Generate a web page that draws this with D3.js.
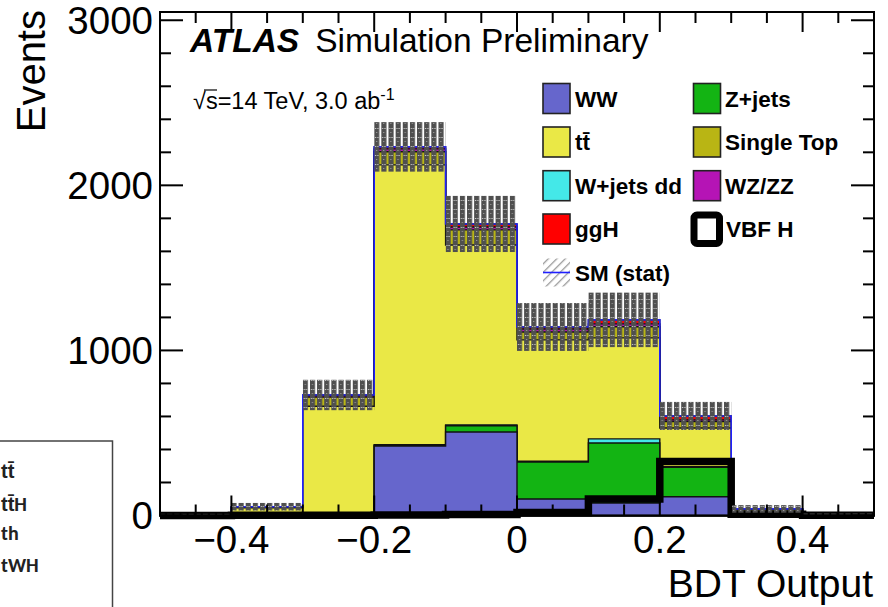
<!DOCTYPE html>
<html>
<head>
<meta charset="utf-8">
<script src="https://cdn.jsdelivr.net/npm/d3@7"></script>
<style>
  body { margin: 0; background: #fff; }
  svg { display: block; font-family: "Liberation Sans", Arial, sans-serif; }
</style>
</head>
<body>
<svg id="chart" width="888" height="607"></svg>
<script>
// BDT output bins (low edges), width 0.1
const binLow = [-0.5, -0.4, -0.3, -0.2, -0.1, 0.0, 0.1, 0.2, 0.3, 0.4];
const binWidth = 0.1;

// stacked backgrounds, bottom to top
const ww        = [2, 5, 4, 421, 506, 100, 76, 114, 5, 1];
const zjets     = [1, 3, 5, 5, 38, 224, 363, 178, 5, 1];
const wjets     = [0, 1, 3, 3, 5, 5, 25, 3, 1, 0];
const ttbar     = [4, 38, 650, 1695, 1090, 735, 612, 235, 22, 5];
const singleTop = [1, 4, 55, 79, 91, 48, 67, 39, 4, 1];
const wzzz      = [0, 1, 8, 18, 18, 18, 18, 10, 1, 0];
const ggH       = [0, 1, 5, 12, 18, 12, 24, 24, 2, 1];
// signal (drawn as line, not stacked)
const vbfH      = [0, 1, 2, 3, 6, 18, 100, 327, 8, 1];
// stat uncertainty on SM total
const statErr   = [2, 23, 92, 150, 170, 145, 165, 85, 23, 3];

const layers = [
  {name: "WW", values: ww, color: "#6666cc"},
  {name: "Z+jets", values: zjets, color: "#13b413"},
  {name: "W+jets dd", values: wjets, color: "#44e8e8"},
  {name: "tt\u0304", values: ttbar, color: "#eae846"},
  {name: "Single Top", values: singleTop, color: "#b9b514"},
  {name: "WZ/ZZ", values: wzzz, color: "#b514b5"},
  {name: "ggH", values: ggH, color: "#ff0000"}
];

const yTickLabels = [0, 1000, 2000, 3000];
const xTickLabels = [-0.4, -0.2, 0, 0.2, 0.4];

const svg = d3.select("#chart");
const frame = {left: 160, right: 874, top: 12, bottom: 515.5};

const x = d3.scaleLinear().domain([-0.5, 0.5]).range([frame.left, frame.right]);
const y = d3.scaleLinear().domain([0, 3050]).range([frame.bottom, frame.top]);

// cumulative sums for the stack
let running = binLow.map(() => 0);
layers.forEach(l => {
  running = running.map((r, i) => r + l.values[i]);
  l.cum = running.slice();
});
const total = running;

function stepPts(vals) {
  const pts = [];
  vals.forEach((v, i) => {
    pts.push([binLow[i], v]);
    pts.push([binLow[i] + binWidth, v]);
  });
  return pts;
}

// patterns
const defs = svg.append("defs");
const hatch = defs.append("pattern")
  .attr("id", "band")
  .attr("patternUnits", "userSpaceOnUse")
  .attr("x", frame.left).attr("y", 0)
  .attr("width", (x(0.01) - x(0))).attr("height", 9);
hatch.append("rect").attr("x", 0).attr("y", 0).attr("width", 5.1).attr("height", 9).attr("fill", "#4f4f4f");
hatch.append("rect").attr("x", 0.8).attr("y", 2).attr("width", 1.2).attr("height", 1).attr("fill", "#c8c8c8");
hatch.append("rect").attr("x", 3.0).attr("y", 2).attr("width", 1.2).attr("height", 1).attr("fill", "#c8c8c8");
hatch.append("rect").attr("x", 1.8).attr("y", 6).attr("width", 1.2).attr("height", 1).attr("fill", "#9a9a9a");

const diag = defs.append("pattern")
  .attr("id", "diag")
  .attr("patternUnits", "userSpaceOnUse")
  .attr("width", 6).attr("height", 6)
  .attr("patternTransform", "rotate(45)");
diag.append("rect").attr("x", 0).attr("y", 0).attr("width", 1.3).attr("height", 6).attr("fill", "#9a9a9a");

// stack: draw from the top cumulative down
const area = d3.area().x(d => x(d[0])).y0(y(0)).y1(d => y(d[1]));
svg.append("g")
  .selectAll("path")
  .data(layers.slice().reverse())
  .join("path")
  .attr("d", d => area(stepPts(d.cum)))
  .attr("fill", d => d.color)
  .attr("stroke", "#111")
  .attr("stroke-width", 1.4);

// SM total outline
const line = d3.line().x(d => x(d[0])).y(d => y(d[1]));
const totalPts = [[binLow[0], 0]].concat(stepPts(total)).concat([[0.5, 0]]);
svg.append("path")
  .attr("d", line(totalPts))
  .attr("fill", "none")
  .attr("stroke", "#2020ff")
  .attr("stroke-width", 1.6);

// VBF H signal line
svg.append("path")
  .attr("d", line(stepPts(vbfH)))
  .attr("fill", "none")
  .attr("stroke", "#000")
  .attr("stroke-width", 7.5)
  .attr("stroke-linejoin", "miter");

// stat band
svg.append("g")
  .selectAll("rect")
  .data(binLow)
  .join("rect")
  .attr("x", d => x(d))
  .attr("width", x(binWidth) - x(0))
  .attr("y", (d, i) => y(total[i] + statErr[i]))
  .attr("height", (d, i) => y(total[i] - statErr[i]) - y(total[i] + statErr[i]))
  .attr("fill", "url(#band)");

// frame and ticks
const axes = svg.append("g").attr("stroke", "#000");
axes.append("rect")
  .attr("x", frame.left).attr("y", frame.top)
  .attr("width", frame.right - frame.left).attr("height", frame.bottom - frame.top)
  .attr("fill", "none").attr("stroke-width", 2);

d3.range(0, 3001, 200).forEach(v => {
  const len = v % 1000 === 0 ? 23 : 11;
  axes.append("line").attr("x1", frame.left).attr("x2", frame.left + len)
    .attr("y1", y(v)).attr("y2", y(v)).attr("stroke-width", 2);
  axes.append("line").attr("x1", frame.right).attr("x2", frame.right - len)
    .attr("y1", y(v)).attr("y2", y(v)).attr("stroke-width", 2);
});
d3.range(-10, 11).forEach(i => {
  const v = i * 0.05;
  const len = (i % 4 === 0) ? 20 : 11;
  axes.append("line").attr("x1", x(v)).attr("x2", x(v))
    .attr("y1", frame.bottom).attr("y2", frame.bottom - len).attr("stroke-width", 2);
  axes.append("line").attr("x1", x(v)).attr("x2", x(v))
    .attr("y1", frame.top).attr("y2", frame.top + len).attr("stroke-width", 2);
});

// tick labels
svg.append("g")
  .selectAll("text")
  .data(yTickLabels)
  .join("text")
  .attr("x", 153)
  .attr("y", d => y(d))
  .attr("dy", "0.36em")
  .attr("text-anchor", "end")
  .attr("font-size", 38.5)
  .attr("fill", "#000")
  .text(d => d);

svg.append("g")
  .selectAll("text")
  .data(xTickLabels)
  .join("text")
  .attr("x", d => x(d))
  .attr("y", 553)
  .attr("text-anchor", "middle")
  .attr("font-size", 38.5)
  .attr("fill", "#000")
  .text(d => d === 0 ? "0" : (d < 0 ? "\u2212" + Math.abs(d) : String(d)));

// axis titles
svg.append("text")
  .attr("transform", "translate(45,10) rotate(-90)")
  .attr("text-anchor", "end")
  .attr("font-size", 40)
  .text("Events");
svg.append("text")
  .attr("x", 873).attr("y", 597)
  .attr("text-anchor", "end")
  .attr("font-size", 39)
  .text("BDT Output");

// ATLAS label
const atl = svg.append("text").attr("x", 190).attr("y", 52).attr("font-size", 33.5);
atl.append("tspan").attr("font-weight", "bold").attr("font-style", "italic").text("ATLAS");
atl.append("tspan").attr("dx", 16).text("Simulation Preliminary");

const en = svg.append("text").attr("x", 193).attr("y", 109).attr("font-size", 23.5);
en.append("tspan").text("\u221As=14 TeV, 3.0 ab");
en.append("tspan").attr("dy", -9).attr("font-size", 16).text("-1");
svg.append("line").attr("x1", 204).attr("x2", 217).attr("y1", 90).attr("y2", 90)
  .attr("stroke", "#000").attr("stroke-width", 1.2);

// legend
const leg = svg.append("g").attr("font-size", 22.5).attr("font-weight", "bold");
const col1 = [layers[0], layers[3], layers[2], layers[6]];
const col2 = [layers[1], layers[4], layers[5]];
const rowY = [98.5, 142, 185.7, 229, 272.5];

function legendBox(l, bx, tx, cy) {
  leg.append("rect").attr("x", bx).attr("y", cy - 15).attr("width", 27).attr("height", 30)
    .attr("fill", l.color).attr("stroke", "#222").attr("stroke-width", 1.6);
  leg.append("text").attr("x", tx).attr("y", cy).attr("dy", "0.36em").text(l.name);
}
col1.forEach((l, i) => legendBox(l, 543, 575, rowY[i]));
col2.forEach((l, i) => legendBox(l, 693.5, 725, rowY[i]));

leg.append("rect").attr("x", 694).attr("y", rowY[3] - 14).attr("width", 25.5).attr("height", 28.5)
  .attr("rx", 3).attr("fill", "#fff").attr("stroke", "#000").attr("stroke-width", 7);
leg.append("text").attr("x", 726).attr("y", rowY[3]).attr("dy", "0.36em").text("VBF H");

leg.append("rect").attr("x", 543).attr("y", rowY[4] - 14).attr("width", 27).attr("height", 28)
  .attr("fill", "url(#diag)");
leg.append("line").attr("x1", 543).attr("x2", 570).attr("y1", rowY[4]).attr("y2", rowY[4])
  .attr("stroke", "#2020ff").attr("stroke-width", 1.6);
leg.append("text").attr("x", 575).attr("y", rowY[4]).attr("dy", "0.36em").text("SM (stat)");

// box from neighbouring legend at bottom left (partly outside the picture)
const side = svg.append("g");
side.append("rect").attr("x", -5).attr("y", 441).attr("width", 117.5).attr("height", 180)
  .attr("fill", "none").attr("stroke", "#444").attr("stroke-width", 1.5);
const sideText = side.append("g").attr("font-family", "Carlito, 'Liberation Sans', sans-serif")
  .attr("font-weight", "bold").attr("font-size", 20).attr("fill", "#222");
[["tt\u0304", 478], ["tt\u0304H", 510.5], ["th", 540], ["tWH", 572]].forEach(d => {
  sideText.append("text").attr("x", 1).attr("y", d[1]).text(d[0]);
});
</script>
</body>
</html>
